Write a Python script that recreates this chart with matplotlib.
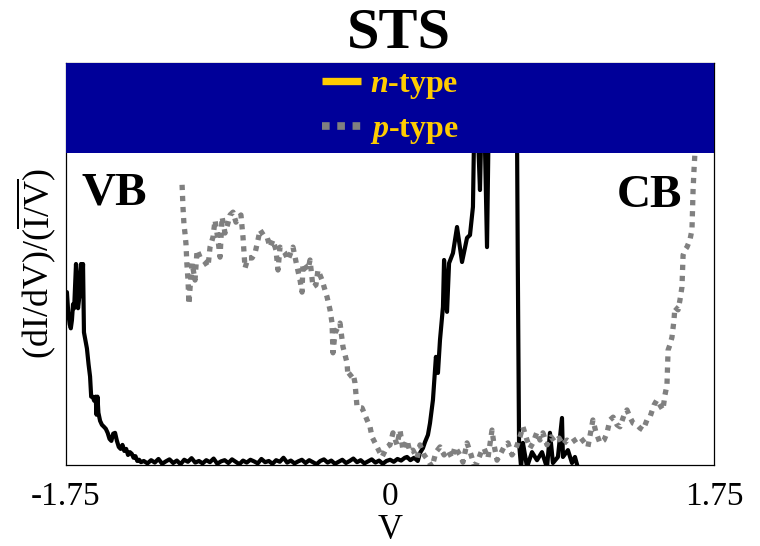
import numpy as np
import matplotlib
matplotlib.use("Agg")
import matplotlib.pyplot as plt
from matplotlib.lines import Line2D
from matplotlib.patches import Rectangle

plt.rcParams['font.family'] = ['Liberation Serif', 'DejaVu Serif']
plt.rcParams['mathtext.fontset'] = 'custom'
plt.rcParams['mathtext.rm'] = 'Liberation Serif'
plt.rcParams['mathtext.it'] = 'Liberation Serif:italic'
plt.rcParams['mathtext.bf'] = 'Liberation Serif:bold'
plt.rcParams['mathtext.bfit'] = 'Liberation Serif:italic:bold'

# ---------------- data ----------------
xticks = [-1.75, 0, 1.75]
xtick_labels = ["-1.75", "0", "1.75"]

# n-type (black) : valence band edge
n_vb_v = [-1.750, -1.745, -1.738, -1.730, -1.724, -1.718, -1.712, -1.706, -1.700, -1.696,
          -1.690, -1.685, -1.680, -1.674, -1.669, -1.664, -1.658, -1.653, -1.645, -1.637,
          -1.628, -1.620, -1.614, -1.606, -1.598, -1.590, -1.585, -1.580, -1.575, -1.566,
          -1.556, -1.545, -1.535, -1.525, -1.515, -1.505, -1.495, -1.485, -1.475, -1.465,
          -1.455, -1.445, -1.435, -1.425, -1.415, -1.405, -1.395, -1.385, -1.375, -1.365,
          -1.355, -1.345]
n_vb_y = [0.42, 0.43, 0.38, 0.35, 0.34, 0.36, 0.40, 0.39, 0.46, 0.50,
          0.42, 0.39, 0.41, 0.47, 0.50, 0.42, 0.50, 0.33, 0.31, 0.29,
          0.25, 0.22, 0.17, 0.17, 0.16, 0.17, 0.125, 0.17, 0.13, 0.11,
          0.10, 0.095, 0.09, 0.08, 0.065, 0.06, 0.078, 0.08, 0.06, 0.045,
          0.04, 0.05, 0.035, 0.04, 0.025, 0.032, 0.028, 0.018, 0.022, 0.010,
          0.013, 0.007]
# n-type gap noise
n_gap_y = [0.010, 0.004, 0.012, 0.006, 0.015, 0.003, 0.009, 0.014, 0.005, 0.011,
           0.002, 0.013, 0.008, 0.017, 0.006, 0.010, 0.004, 0.012, 0.007, 0.016,
           0.003, 0.009, 0.012, 0.005, 0.014, 0.008, 0.002, 0.011, 0.006, 0.013,
           0.009, 0.004, 0.015, 0.007, 0.010, 0.003, 0.012, 0.008, 0.018, 0.006,
           0.011, 0.004, 0.009, 0.013, 0.005, 0.012, 0.007, 0.002, 0.010, 0.014,
           0.006, 0.011, 0.003, 0.008, 0.013, 0.005, 0.010, 0.016, 0.007, 0.012,
           0.004, 0.009, 0.014, 0.006, 0.011, 0.003, 0.010, 0.013, 0.008, 0.015,
           0.011, 0.018]
n_gap_v = list(np.linspace(-1.33, 0.08, len(n_gap_y)))
# n-type conduction band edge
n_cb_v = [0.092, 0.110, 0.130, 0.150, 0.162, 0.178, 0.189, 0.205, 0.216, 0.232,
          0.248, 0.259, 0.270, 0.286, 0.292, 0.308, 0.319, 0.340, 0.362, 0.389,
          0.416, 0.432, 0.448, 0.454, 0.465, 0.475, 0.486, 0.497, 0.510, 0.524,
          0.535, 0.560, 0.620, 0.680, 0.686, 0.690, 0.697, 0.708, 0.718, 0.740,
          0.767, 0.794, 0.821, 0.848, 0.864, 0.880, 0.907, 0.929, 0.934, 0.961,
          0.983, 0.999, 1.015]
n_cb_y = [0.020, 0.012, 0.018, 0.010, 0.030, 0.042, 0.057, 0.075, 0.104, 0.162,
          0.269, 0.229, 0.311, 0.393, 0.510, 0.381, 0.502, 0.527, 0.592, 0.505,
          0.565, 0.572, 0.642, 0.82, 0.92, 0.82, 0.684, 0.92, 0.86, 0.542,
          0.92, 1.3, 1.4, 1.3, 0.82, 0.517, 0.055, -0.005, 0.055, -0.005,
          0.032, 0.012, 0.032, -0.007, 0.080, 0.005, 0.020, 0.117, 0.020, 0.037,
          0.005, 0.020, -0.007]
n_v = n_vb_v + n_gap_v + n_cb_v
n_y = n_vb_y + n_gap_y + n_cb_y

# p-type (gray dotted)
p_v = [-1.123, -1.118, -1.113, -1.107, -1.102, -1.097, -1.091, -1.086, -1.080, -1.069,
       -1.053, -1.042, -1.026, -1.000, -0.983, -0.972, -0.956, -0.945, -0.929, -0.918,
       -0.907, -0.891, -0.875, -0.864, -0.848, -0.832, -0.821, -0.805, -0.794, -0.783,
       -0.767, -0.745, -0.729, -0.713, -0.702, -0.681, -0.664, -0.648, -0.632, -0.616,
       -0.605, -0.594, -0.567, -0.551, -0.524, -0.502, -0.486, -0.475, -0.470, -0.443,
       -0.432, -0.416, -0.400, -0.389, -0.367, -0.351, -0.340, -0.324, -0.313, -0.308,
       -0.297, -0.270, -0.254, -0.232, -0.227, -0.200, -0.189, -0.178, -0.151, -0.124,
       -0.108, -0.097, -0.070, -0.054, -0.043, -0.016, 0.000, 0.016, 0.038, 0.054,
       0.070, 0.092, 0.108, 0.124, 0.146, 0.162, 0.184, 0.205, 0.227, 0.248,
       0.270, 0.292, 0.313, 0.335, 0.351, 0.378, 0.394, 0.416, 0.438, 0.454,
       0.470, 0.492, 0.508, 0.529, 0.551, 0.562, 0.578, 0.594, 0.616, 0.637,
       0.659, 0.681, 0.702, 0.718, 0.740, 0.756, 0.772, 0.794, 0.810, 0.826,
       0.848, 0.870, 0.891, 0.913, 0.934, 0.956, 0.978, 0.999, 1.026, 1.048,
       1.069, 1.096, 1.112, 1.134, 1.156, 1.172, 1.188, 1.205, 1.226, 1.242,
       1.264, 1.280, 1.296, 1.313, 1.334, 1.350, 1.367, 1.388, 1.404, 1.426,
       1.442, 1.458, 1.474, 1.485, 1.496, 1.502, 1.512, 1.523, 1.534, 1.539,
       1.556, 1.566, 1.577, 1.583, 1.593, 1.604, 1.620, 1.631, 1.637, 1.642,
       1.647, 1.658, 1.668]
p_y = [0.697, 0.640, 0.600, 0.575, 0.550, 0.500, 0.460, 0.400, 0.440, 0.502,
       0.460, 0.535, 0.517, 0.505, 0.493, 0.542, 0.567, 0.609, 0.560, 0.517,
       0.617, 0.577, 0.602, 0.622, 0.629, 0.604, 0.614, 0.622, 0.567, 0.490,
       0.515, 0.515, 0.527, 0.560, 0.585, 0.570, 0.567, 0.542, 0.560, 0.535,
       0.485, 0.542, 0.527, 0.510, 0.542, 0.493, 0.460, 0.430, 0.502, 0.485,
       0.510, 0.443, 0.448, 0.485, 0.460, 0.435, 0.418, 0.386, 0.353, 0.279,
       0.328, 0.353, 0.294, 0.254, 0.219, 0.229, 0.204, 0.144, 0.142, 0.112,
       0.095, 0.070, 0.045, 0.030, 0.020, 0.045, 0.050, 0.080, 0.050, 0.087,
       0.037, 0.062, 0.032, 0.037, 0.017, 0.050, 0.025, 0.012, -0.005, 0.032,
       0.045, 0.025, 0.037, 0.017, 0.045, 0.025, 0.007, 0.055, 0.025, 0.000,
       0.005, 0.032, 0.042, 0.017, 0.087, 0.050, 0.012, 0.025, 0.045, 0.055,
       0.025, 0.042, 0.070, 0.095, 0.062, 0.042, 0.055, 0.082, 0.062, 0.080,
       0.050, 0.070, 0.057, 0.067, 0.050, 0.062, 0.055, 0.062, 0.070, 0.057,
       0.045, 0.112, 0.082, 0.055, 0.062, 0.080, 0.112, 0.119, 0.100, 0.095,
       0.124, 0.137, 0.119, 0.104, 0.100, 0.092, 0.087, 0.112, 0.119, 0.149,
       0.162, 0.149, 0.137, 0.174, 0.199, 0.286, 0.299, 0.318, 0.361, 0.393,
       0.386, 0.410, 0.443, 0.522, 0.535, 0.542, 0.560, 0.585, 0.684, 0.734,
       0.776, 0.833, 0.95]

# ---------------- figure ----------------
fig = plt.figure(figsize=(7.6, 5.46), dpi=100)
ax = fig.add_axes([66/760, 1-465/546, 648/760, 402/546])

ax.plot(n_v, n_y, color='black', lw=3.0, solid_joinstyle='round', zorder=2)
ax.plot(p_v, p_y, color='#808080', lw=3.8, linestyle=(0, (1, 1.1)),
        dash_capstyle='butt', zorder=2)

ax.set_xlim(-1.75, 1.75)
ax.set_ylim(0, 1)
ax.set_xticks(xticks)
ax.set_xticklabels(xtick_labels)
ax.set_yticks([])
ax.tick_params(axis='x', length=0, pad=12, labelsize=24)
for s in ax.spines.values():
    s.set_linewidth(0.9)
    s.set_color('black')

ax.set_xlabel('V', fontsize=25, labelpad=1)
ax.set_ylabel(r'$\mathrm{(dI/dV)/(}\overline{\mathrm{I/V}}\mathrm{)}$', fontsize=26, labelpad=5)

# navy band at top
band_bottom = (465 - 153) / 402
ax.add_patch(Rectangle((0, band_bottom), 1, 1 - band_bottom, transform=ax.transAxes,
                       facecolor='#000099', edgecolor='none', zorder=3, clip_on=False))

handles = [Line2D([], [], color='#FFCC00', lw=5.3, solid_capstyle='butt'),
           Line2D([], [], color='#808080', lw=5.5, linestyle=(0, (1, 1)),
                  dash_capstyle='butt')]
labels = [r'$\mathbfit{n}$-type', r'$\mathbfit{p}$-type']
leg = ax.legend(handles, labels, loc='center', bbox_to_anchor=(0.5, (465-108)/402),
                frameon=False, prop={'weight': 'bold', 'size': 23},
                handlelength=1.22, handletextpad=0.28, labelspacing=0.43,
                borderpad=0.0)
for t in leg.get_texts():
    t.set_color('#FFCC00')
leg.set_zorder(5)

ax.text((82-66)/648, (465-205)/402, 'VB', transform=ax.transAxes, fontsize=34,
        fontweight='bold', ha='left', va='baseline')
ax.text((682-66)/648, (465-207)/402, 'CB', transform=ax.transAxes, fontsize=34,
        fontweight='bold', ha='right', va='baseline')

fig.text(399/760, 1-33/546, 'STS', fontsize=42, fontweight='bold', ha='center', va='center')

fig.savefig('out.png', dpi=100)
